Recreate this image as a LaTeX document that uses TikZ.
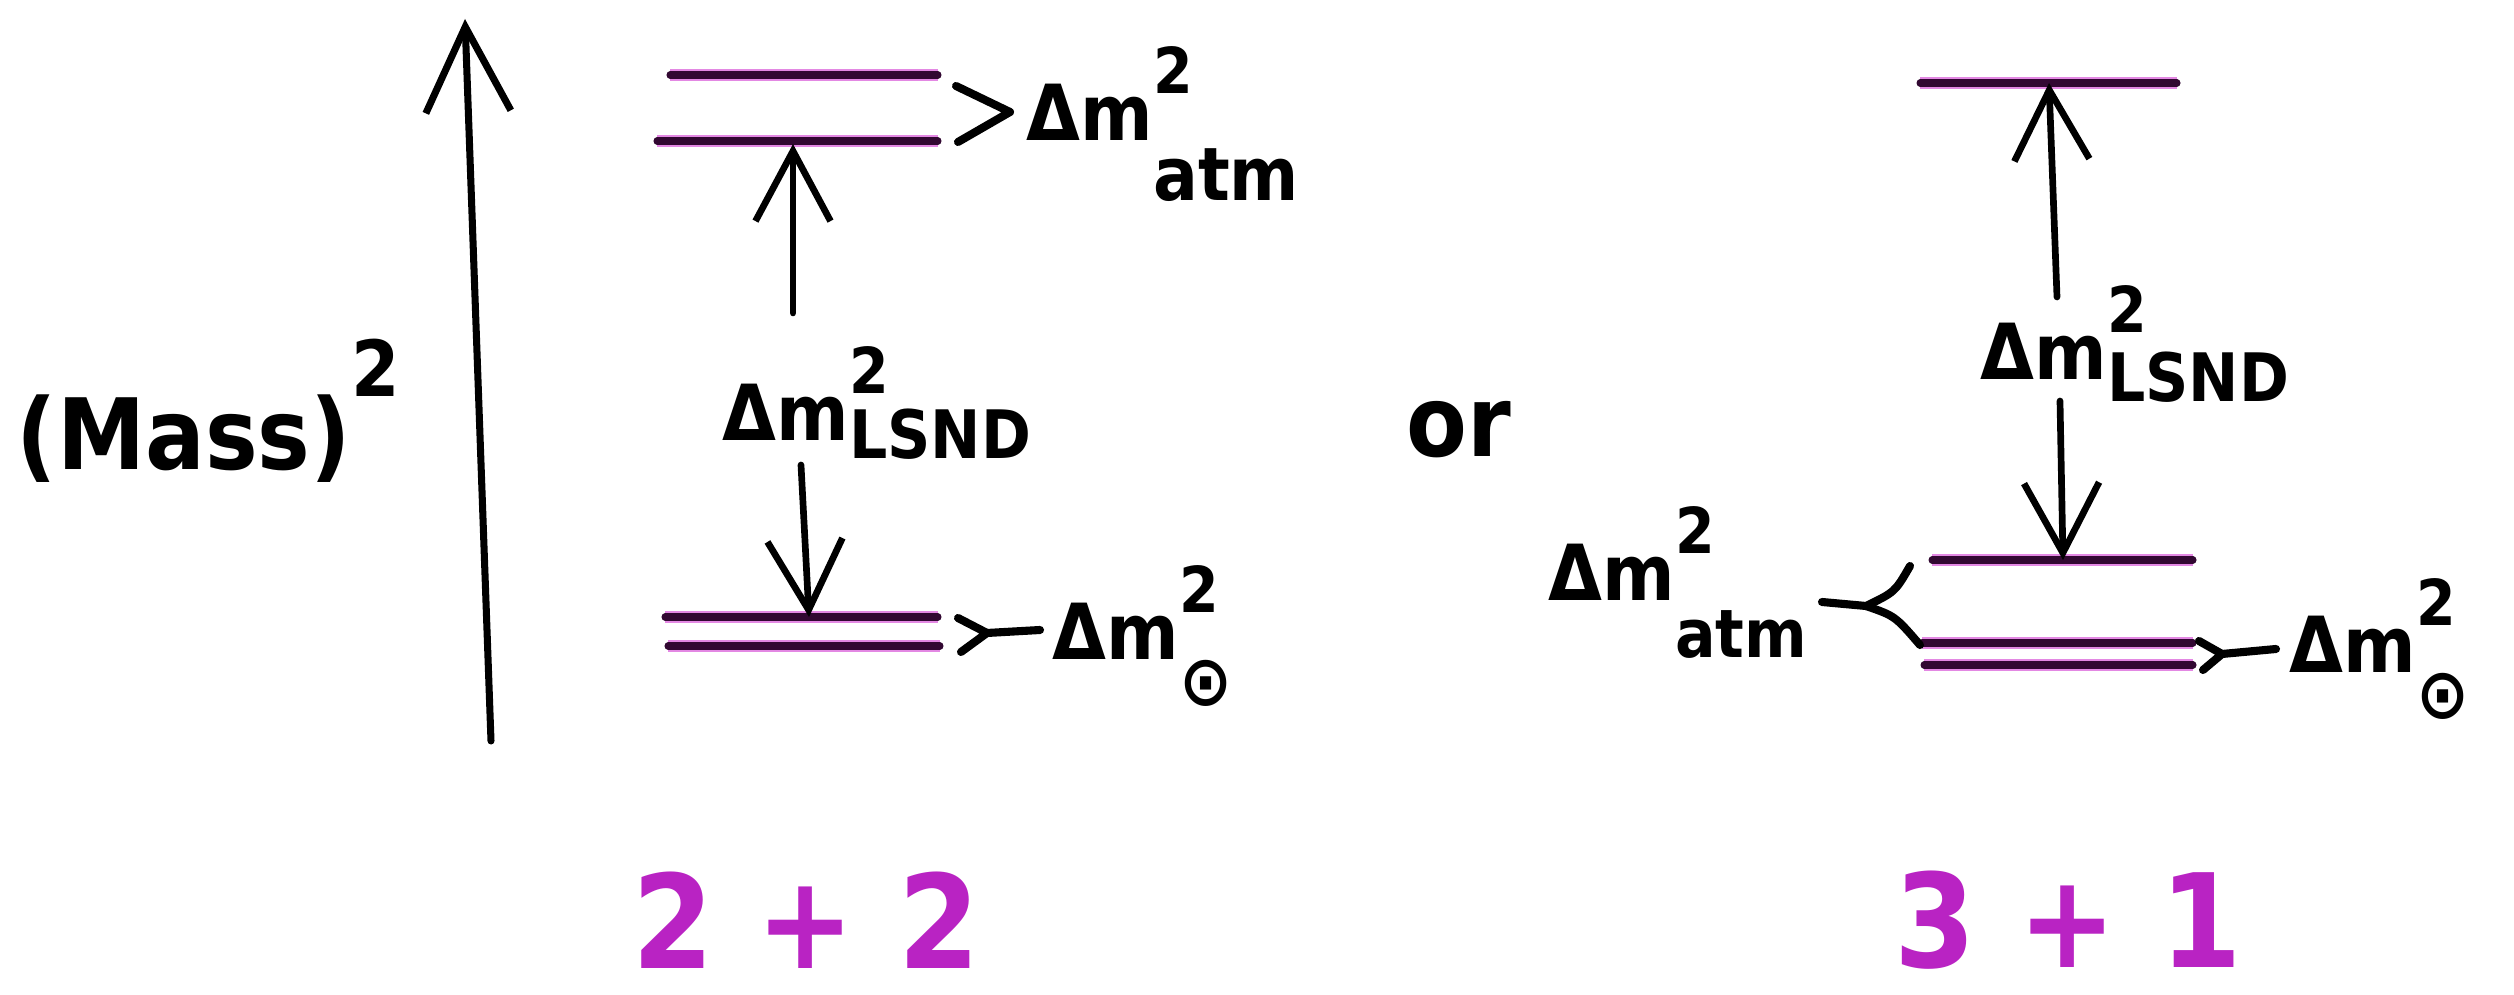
\documentclass[tikz,border=0pt]{standalone}
\usepackage{fontspec}
\setmainfont{DejaVu Sans}[FakeStretch=0.9]
\usetikzlibrary{arrows.meta}
\definecolor{lvl}{RGB}{50,8,50}
\definecolor{mag}{RGB}{205,40,205}
\definecolor{numc}{RGB}{185,35,195}
% \dmsq[drop]{size}{subscript}
\newcommand{\dmsq}[3][6pt]{Δm\rlap{\raisebox{0.62em}{\fontsize{18}{18}\selectfont 2}}\raisebox{-#1}{\fontsize{#2}{#2}\selectfont #3}}
\begin{document}
\begin{tikzpicture}[x=0.01cm,y=-0.01cm,
  lvlline/.style={lvl, line width=2pt, line cap=round,
     preaction={draw=mag, line width=3.4pt, opacity=0.55}},
  arr/.style={line width=1.9pt, line cap=round,
     -{Straight Barb[length=0.7cm,width=0.75cm,line width=1.9pt]}},
  bigarr/.style={line width=2pt, line cap=round,
     -{Straight Barb[length=0.85cm,width=0.85cm,line width=2pt]}},
  brk/.style={line width=2.3pt, line join=round, line cap=round},
  lab/.style={font=\fontsize{22}{26}\selectfont\bfseries, inner sep=0pt, anchor=base west},
  num/.style={font=\fontsize{37}{40}\selectfont\bfseries, text=numc, inner sep=0pt}]
\useasboundingbox (0,0) rectangle (2514,995);
\fill[white] (0,0) rectangle (2514,995);

% axis
\coordinate (axb) at (491,741);
\coordinate (axt) at (465,19);
\draw[bigarr] (axb) -- (axt);
\node[font=\fontsize{28}{32}\selectfont\bfseries, inner sep=0pt, anchor=base west] (mass) at (16,470) {(Mass)\raisebox{0.75em}{\fontsize{22}{22}\selectfont 2}};

% ---------- 2+2 ----------
\coordinate (aL1) at (670,75);  \coordinate (aR1) at (938,75);
\coordinate (aL2) at (657,141); \coordinate (aR2) at (938,141);
\coordinate (aL3) at (665,617); \coordinate (aR3) at (938,617);
\coordinate (aL4) at (668,646); \coordinate (aR4) at (940,646);
\draw[lvlline] (aL1) -- (aR1);
\draw[lvlline] (aL2) -- (aR2);
\draw[lvlline] (aL3) -- (aR3);
\draw[lvlline] (aL4) -- (aR4);

\coordinate (b1u) at (956,86);
\coordinate (b1a) at (1010,112);
\coordinate (b1d) at (958,142);
\draw[brk] (b1u) -- (b1a) -- (b1d);
\node[lab] (atmA) at (1026,141) {\dmsq[17pt]{21}{atm}};

\node[lab] (lsndA) at (722,441) {\dmsq[5pt]{19}{LSND}};
\coordinate (upA0) at (793,313);
\coordinate (upA1) at (793,144);
\draw[arr] (upA0) -- (upA1);
\coordinate (dnA0) at (801,465);
\coordinate (dnA1) at (809,617);
\draw[arr] (dnA0) -- (dnA1);

\coordinate (b2u) at (958,618);
\coordinate (b2a) at (987,633);
\coordinate (b2d) at (961,652);
\coordinate (b2t) at (1040,630);
\draw[brk] (b2u) -- (b2a) -- (b2d);
\draw[brk] (b2a) -- (b2t);
\node[lab] (solA) at (1052,660) {\dmsq[13pt]{20}{⊙}};

\node[font=\fontsize{28}{32}\selectfont\bfseries, inner sep=0pt] (or) at (1459,430) {or};
\node[num] (tt) at (806,920) {2\,\,+\,\,2};

% ---------- 3+1 ----------
\coordinate (cL1) at (1920,83);  \coordinate (cR1) at (2177,83);
\coordinate (cL2) at (1932,560); \coordinate (cR2) at (2193,560);
\coordinate (cL3) at (1922,643); \coordinate (cR3) at (2193,643);
\coordinate (cL4) at (1924,665); \coordinate (cR4) at (2193,665);
\draw[lvlline] (cL1) -- (cR1);
\draw[lvlline] (cL2) -- (cR2);
\draw[lvlline] (cL3) -- (cR3);
\draw[lvlline] (cL4) -- (cR4);

\node[lab] (lsndB) at (1980,380) {\dmsq[6pt]{19}{LSND}};
\coordinate (upB0) at (2057,297);
\coordinate (upB1) at (2049,83);
\draw[arr] (upB0) -- (upB1);
\coordinate (dnB0) at (2060,401);
\coordinate (dnB1) at (2063,560);
\draw[arr] (dnB0) -- (dnB1);

\coordinate (b3u) at (1910,566);
\coordinate (b3m) at (1866,606);
\coordinate (b3t) at (1822,602);
\coordinate (b3d) at (1920,645);
\draw[brk] (b3u) .. controls (1895,592) .. (b3m) -- (b3t);
\draw[brk] (b3m) .. controls (1895,616) .. (b3d);
\node[lab, anchor=base east] (atmB) at (1808,601) {\dmsq[16pt]{19}{atm}};

\coordinate (b4u) at (2199,641);
\coordinate (b4a) at (2222,654);
\coordinate (b4d) at (2203,670);
\coordinate (b4t) at (2276,649);
\draw[brk] (b4u) -- (b4a) -- (b4d);
\draw[brk] (b4a) -- (b4t);
\node[lab] (solB) at (2289,673) {\dmsq[13pt]{20}{⊙}};

\node[num] (to) at (2068,920) {3\,\,+\,\,1};
\end{tikzpicture}
\end{document}
